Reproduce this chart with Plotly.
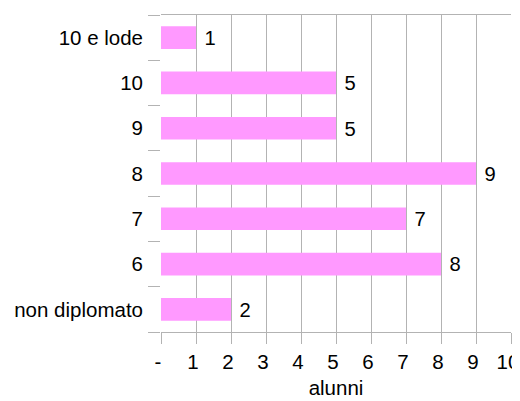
import plotly.graph_objects as go

categories = ["non diplomato", "6", "7", "8", "9", "10", "10 e lode"]
values = [2, 8, 7, 9, 5, 5, 1]
x_tickvals = [0, 1, 2, 3, 4, 5, 6, 7, 8, 9, 10]
x_ticktext = ["-", "1", "2", "3", "4", "5", "6", "7", "8", "9", "10"]

FS = 20.5

fig = go.Figure(go.Bar(
    y=categories, x=values, orientation="h",
    marker=dict(color="#ff99ff", line=dict(width=0)),
    text=values, textposition="outside",
    texttemplate=" %{text}",
    textfont=dict(size=FS, color="#000000"),
    cliponaxis=False,
))

fig.update_layout(
    width=520, height=401,
    margin=dict(l=153, r=17, t=7, b=77),
    paper_bgcolor="white", plot_bgcolor="white",
    font=dict(family="Liberation Sans, Arial, sans-serif", size=FS, color="#000000"),
    bargap=0.5,
    showlegend=False,
    xaxis=dict(
        range=[0, 10], tickvals=x_tickvals, ticktext=x_ticktext,
        showgrid=True, gridcolor="#b3b3b3", gridwidth=1,
        showline=True, linecolor="#b3b3b3", linewidth=1, mirror=True,
        ticks="outside", ticklen=11, tickcolor="#b3b3b3",
        zeroline=False, automargin=False,
        ticklabelshift=-3,
        title=dict(text="alunni", standoff=9, font=dict(size=FS)),
        tickfont=dict(size=FS),
    ),
    yaxis=dict(
        type="category", categoryorder="array", categoryarray=categories,
        showgrid=False, zeroline=False, showline=False, automargin=False,
        ticks="outside", ticklen=12, tickcolor="#b3b3b3", tickson="boundaries",
        ticklabelstandoff=17,
        tickfont=dict(size=FS),
    ),
)

fig.write_html("out.html")
